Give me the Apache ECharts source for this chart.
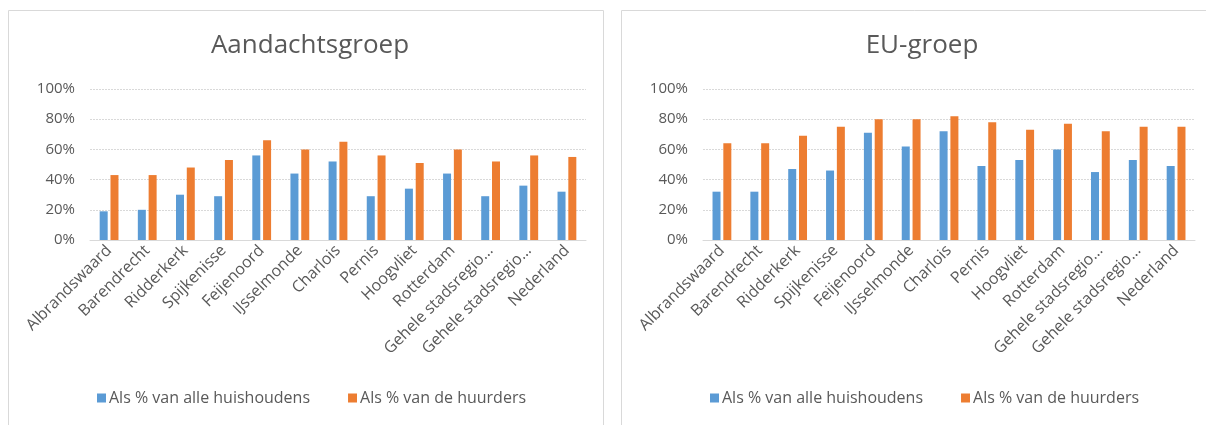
<!DOCTYPE html>
<html><head><meta charset="utf-8">
<script src="https://cdn.jsdelivr.net/npm/echarts@6/dist/echarts.min.js"></script>
<style>html,body{margin:0;padding:0;background:#fff}#c{width:1206px;height:425px}</style>
</head><body><div id="c"></div>
<script>
const categories = ["Albrandswaard","Barendrecht","Ridderkerk","Spijkenisse","Feijenoord","IJsselmonde","Charlois","Pernis","Hoogvliet","Rotterdam","Gehele stadsregio\u2026","Gehele stadsregio\u2026","Nederland"];
const seriesNames = ["Als % van alle huishoudens","Als % van de huurders"];
const titles = ["Aandachtsgroep","EU-groep"];
const aandachtHuishoudens = [19,20,30,29,56,44,52,29,34,44,29,36,32];
const aandachtHuurders = [43,43,48,53,66,60,65,56,51,60,52,56,55];
const euHuishoudens = [32,32,47,46,71,62,72,49,53,60,45,53,49];
const euHuurders = [64,64,69,75,80,80,82,78,73,77,72,75,75];
const yTicks = [0,20,40,60,80,100];

const FONT = 'Open Sans';
const TXT = '#595959';
const BLUE = '#5B9BD5', ORANGE = '#ED7D31';
const chart = echarts.init(document.getElementById('c'), null, {renderer:'canvas'});
const grids = [
  {left:90, top:89, width:496, height:151},
  {left:703, top:89, width:492, height:151}
];
const panelCenters = [305, 917];
const legendLefts = [92, 705];
function xAxis(i){return {type:'category', gridIndex:i, data:categories,
  axisLine:{lineStyle:{color:'#D9D9D9'}}, axisTick:{show:false},
  axisLabel:{interval:0, rotate:45, color:TXT, fontFamily:FONT, fontSize:16, margin:8}};}
function yAxis(i){return {type:'value', gridIndex:i, min:yTicks[0], max:yTicks[yTicks.length-1], interval:yTicks[1]-yTicks[0],
  axisLine:{show:false}, axisTick:{show:false},
  splitLine:{lineStyle:{color:'#D9D9D9', type:[2,1]}},
  axisLabel:{formatter:'{value}%', color:TXT, fontFamily:FONT, fontSize:15, margin:15}};}
function bar(name, data, color, i){return {type:'bar', name, data, xAxisIndex:i, yAxisIndex:i,
  itemStyle:{color}, barWidth:8, barGap:'35%'};}
chart.setOption({
  animation:false,
  textStyle:{fontFamily:FONT},
  title: titles.map((t,i)=>({text:t, left:panelCenters[i], top:28, textAlign:'center',
    textStyle:{color:TXT, fontFamily:FONT, fontSize:26, fontWeight:'normal'}})),
  legend: [0,1].map(i=>({data:seriesNames, left:legendLefts[i], top:385,
    itemWidth:9, itemHeight:9, icon:'rect', itemGap:38,
    textStyle:{color:TXT, fontFamily:FONT, fontSize:16, padding:[0,0,0,-2]}})),
  grid: grids,
  xAxis:[xAxis(0), xAxis(1)],
  yAxis:[yAxis(0), yAxis(1)],
  series:[
    bar(seriesNames[0], aandachtHuishoudens, BLUE, 0),
    bar(seriesNames[1], aandachtHuurders, ORANGE, 0),
    bar(seriesNames[0], euHuishoudens, BLUE, 1),
    bar(seriesNames[1], euHuurders, ORANGE, 1)
  ],
  graphic:[
    {type:'rect', shape:{x:8.5, y:10.5, width:595, height:430}, style:{fill:'none', stroke:'#D9D9D9', lineWidth:1}, z:-1},
    {type:'rect', shape:{x:621.5, y:10.5, width:600, height:430}, style:{fill:'none', stroke:'#D9D9D9', lineWidth:1}, z:-1}
  ]
});
</script></body></html>
